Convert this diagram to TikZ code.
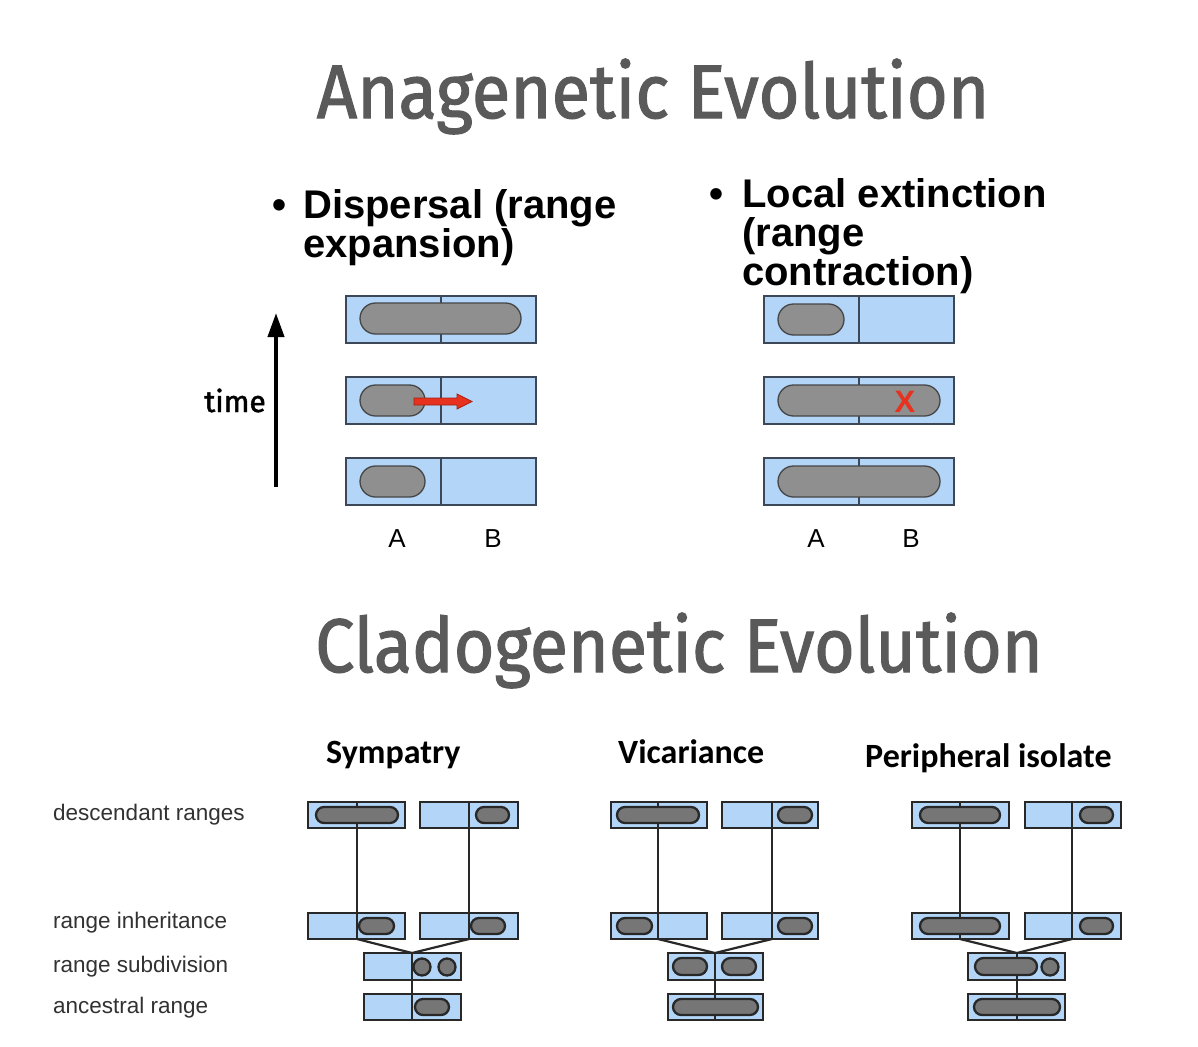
\documentclass[tikz,border=0pt]{standalone}
\usepackage{fontspec}
\setmainfont{Liberation Sans}
\newfontfamily\titlefont[FakeBold=1.6]{Fira Sans}
\newfontfamily\calfont{Carlito}
\usetikzlibrary{shapes.misc,arrows.meta}

\definecolor{rangeblue}{RGB}{178,213,248}
\definecolor{boxedge}{RGB}{60,72,88}
\definecolor{pillgray}{RGB}{143,143,143}
\definecolor{pilledge}{RGB}{70,70,70}
\definecolor{cpill}{RGB}{118,118,118}
\definecolor{cedge}{RGB}{40,40,40}
\definecolor{titlegray}{RGB}{90,90,90}
\definecolor{arrowred}{RGB}{230,50,30}
\definecolor{labelgray}{RGB}{50,50,50}

\newcommand\RangeBox[7]{%
  \node[#1, minimum width={(#5-#3)*1pt}, minimum height={(#6-#4)*1pt}] (#2) at ({(#3+#5)/2},{(#4+#6)/2}) {};
  \coordinate (#2t) at (#7,#4);
  \coordinate (#2b) at (#7,#6);
  \draw[#1div] (#2t) -- (#2b);
}
\newcommand\Pill[6]{%
  \node[#1, minimum width={(#5-#3)*1pt}, minimum height={(#6-#4)*1pt}] (#2) at ({(#3+#5)/2},{(#4+#6)/2}) {};
}

\tikzset{
  abox/.style={draw=boxedge, fill=rangeblue, line width=1.3pt, inner sep=0pt, outer sep=0pt},
  aboxdiv/.style={draw=boxedge, line width=1.3pt},
  apill/.style={rounded rectangle, draw=pilledge, fill=pillgray, line width=1.3pt, inner sep=0pt, outer sep=0pt},
  cbox/.style={draw=cedge, fill=rangeblue, line width=2.3pt, inner sep=0pt, outer sep=0pt},
  cboxdiv/.style={draw=cedge, line width=2.2pt},
  cpillst/.style={rounded rectangle, draw=cedge, fill=cpill, line width=2.3pt, inner sep=0pt, outer sep=0pt},
  cdot/.style={circle, draw=cedge, fill=cpill, line width=2.3pt, inner sep=0pt, minimum size=17pt},
  link/.style={draw=cedge, line width=2.2pt},
  titletext/.style={text=titlegray, font=\titlefont\fontsize{76}{76}\selectfont, inner sep=0pt},
  bullettext/.style={font=\bfseries\fontsize{40}{39}\selectfont, inner sep=0pt, align=left},
  ablabel/.style={font=\fontsize{26}{26}\selectfont, inner sep=0pt},
  rowlabel/.style={text=labelgray, font=\fontsize{22.5}{22.5}\selectfont, inner sep=0pt, anchor=base west},
  heading/.style={font=\calfont\bfseries\fontsize{34}{34}\selectfont, inner sep=0pt, anchor=base west},
}

\begin{document}
\begin{tikzpicture}[x=1pt,y=-1pt]
\useasboundingbox (0,0) rectangle (1198,1046);
\fill[white] (0,0) rectangle (1198,1046);

% titles
\node[titletext, anchor=base] (t1) at (653,118) {\scalebox{0.928}[1]{Anagenetic Evolution}};
\node[titletext, anchor=base] (t2) at (679,672) {\scalebox{0.92}[1]{Cladogenetic Evolution}};

% bullets
\node[bullettext, anchor=base] (b1) at (279,218) {•};
\node[bullettext, anchor=base west] (d1) at (303,218) {Dispersal (range};
\node[bullettext, anchor=base west] (d2) at (303,257) {expansion)};
\node[bullettext, anchor=base] (b2) at (716,207) {•};
\node[bullettext, anchor=base west] (e1) at (742,207) {Local extinction};
\node[bullettext, anchor=base west] (e2) at (742,246) {(range};
\node[bullettext, anchor=base west] (e3) at (742,285) {contraction)};

% time arrow
\coordinate (tb) at (276,487);
\coordinate (tt) at (276,313);
\draw[line width=4pt, -{Triangle[length=24pt,width=16pt]}] (tb) -- (tt);
\node[font=\titlefont\fontsize{30}{30}\selectfont, inner sep=0pt, anchor=base east] (time) at (266,412) {time};

% anagenetic left (dispersal)
\RangeBox{abox}{L1}{346}{296}{536}{343}{441}
\RangeBox{abox}{L2}{346}{377}{536}{424}{441}
\RangeBox{abox}{L3}{346}{458}{536}{505}{441}
\Pill{apill}{L1p}{360}{303}{521}{334}
\Pill{apill}{L2p}{360}{385}{425}{416}
\Pill{apill}{L3p}{360}{466}{425}{497}
\draw[fill=arrowred, draw=arrowred!70!black, line width=0.8pt]
  (414,398) -- (457,398) -- (457,394) -- (472,401.5) -- (457,409) -- (457,405) -- (414,405) -- cycle;
\node[ablabel, anchor=base] (la) at (397,547) {A};
\node[ablabel, anchor=base] (lb) at (493,547) {B};

% anagenetic right (extinction)
\RangeBox{abox}{R1}{764}{296}{954}{343}{859}
\RangeBox{abox}{R2}{764}{377}{954}{424}{859}
\RangeBox{abox}{R3}{764}{458}{954}{505}{859}
\Pill{apill}{R1p}{778}{304}{844}{335}
\Pill{apill}{R2p}{778}{385}{940}{416}
\Pill{apill}{R3p}{778}{466}{940}{497}
\node[text=arrowred, font=\bfseries\fontsize{31}{31}\selectfont, inner sep=0pt] (xx) at (905,402) {X};
\node[ablabel, anchor=base] (ra) at (816,547) {A};
\node[ablabel, anchor=base] (rb) at (911,547) {B};

% row labels
\node[rowlabel] (r1) at (53,820) {descendant ranges};
\node[rowlabel] (r2) at (53,928) {range inheritance};
\node[rowlabel] (r3) at (53,972) {range subdivision};
\node[rowlabel] (r4) at (53,1013) {ancestral range};

% headings
\node[heading] (h1) at (326,763) {Sympatry};
\node[heading] (h2) at (618,763) {Vicariance};
\node[heading] (h3) at (865,767) {Peripheral isolate};

% sympatry
\RangeBox{cbox}{S1}{308}{802}{405}{828}{357}
\RangeBox{cbox}{S2}{420}{802}{518}{828}{469}
\RangeBox{cbox}{S3}{308}{913}{405}{939}{357}
\RangeBox{cbox}{S4}{420}{913}{518}{939}{469}
\RangeBox{cbox}{S5}{364}{953}{461}{980}{412}
\RangeBox{cbox}{S6}{364}{994}{461}{1020}{412}
\Pill{cpillst}{S1p}{316}{807}{398}{823}
\Pill{cpillst}{S2p}{476}{807}{509}{823}
\Pill{cpillst}{S3p}{359}{918}{394}{934}
\Pill{cpillst}{S4p}{471}{918}{505}{934}
\node[cdot] (S5c1) at (422,967) {};
\node[cdot] (S5c2) at (447,967) {};
\Pill{cpillst}{S6p}{415}{999}{449}{1015}
\draw[link] (S1b) -- (S3t);
\draw[link] (S2b) -- (S4t);
\draw[link] (S3b) -- (S5t);
\draw[link] (S4b) -- (S5t);
\draw[link] (S5b) -- (S6t);

% vicariance
\RangeBox{cbox}{V1}{611}{802}{707}{828}{658}
\RangeBox{cbox}{V2}{722}{802}{818}{828}{772}
\RangeBox{cbox}{V3}{611}{913}{707}{939}{658}
\RangeBox{cbox}{V4}{722}{913}{818}{939}{772}
\RangeBox{cbox}{V5}{668}{953}{763}{980}{715}
\RangeBox{cbox}{V6}{668}{994}{763}{1020}{715}
\Pill{cpillst}{V1p}{617}{807}{699}{823}
\Pill{cpillst}{V2p}{778}{807}{812}{823}
\Pill{cpillst}{V3p}{617}{918}{652}{934}
\Pill{cpillst}{V4p}{778}{918}{812}{934}
\Pill{cpillst}{V5p}{673}{958}{707}{975}
\Pill{cpillst}{V5q}{722}{958}{756}{975}
\Pill{cpillst}{V6p}{673}{999}{758}{1015}
\draw[link] (V1b) -- (V3t);
\draw[link] (V2b) -- (V4t);
\draw[link] (V3b) -- (V5t);
\draw[link] (V4b) -- (V5t);
\draw[link] (V5b) -- (V6t);

% peripheral isolate
\RangeBox{cbox}{P1}{912}{802}{1009}{828}{960}
\RangeBox{cbox}{P2}{1025}{802}{1121}{828}{1072}
\RangeBox{cbox}{P3}{912}{913}{1009}{939}{960}
\RangeBox{cbox}{P4}{1025}{913}{1121}{939}{1072}
\RangeBox{cbox}{P5}{968}{953}{1065}{980}{1017}
\RangeBox{cbox}{P6}{968}{994}{1065}{1020}{1017}
\Pill{cpillst}{P1p}{920}{807}{1000}{823}
\Pill{cpillst}{P2p}{1080}{807}{1113}{823}
\Pill{cpillst}{P3p}{920}{918}{1000}{934}
\Pill{cpillst}{P4p}{1080}{918}{1113}{934}
\Pill{cpillst}{P5p}{975}{958}{1037}{975}
\node[cdot] (P5c) at (1050,967) {};
\Pill{cpillst}{P6p}{974}{999}{1060}{1015}
\draw[link] (P1b) -- (P3t);
\draw[link] (P2b) -- (P4t);
\draw[link] (P3b) -- (P5t);
\draw[link] (P4b) -- (P5t);
\draw[link] (P5b) -- (P6t);
\end{tikzpicture}
\end{document}
